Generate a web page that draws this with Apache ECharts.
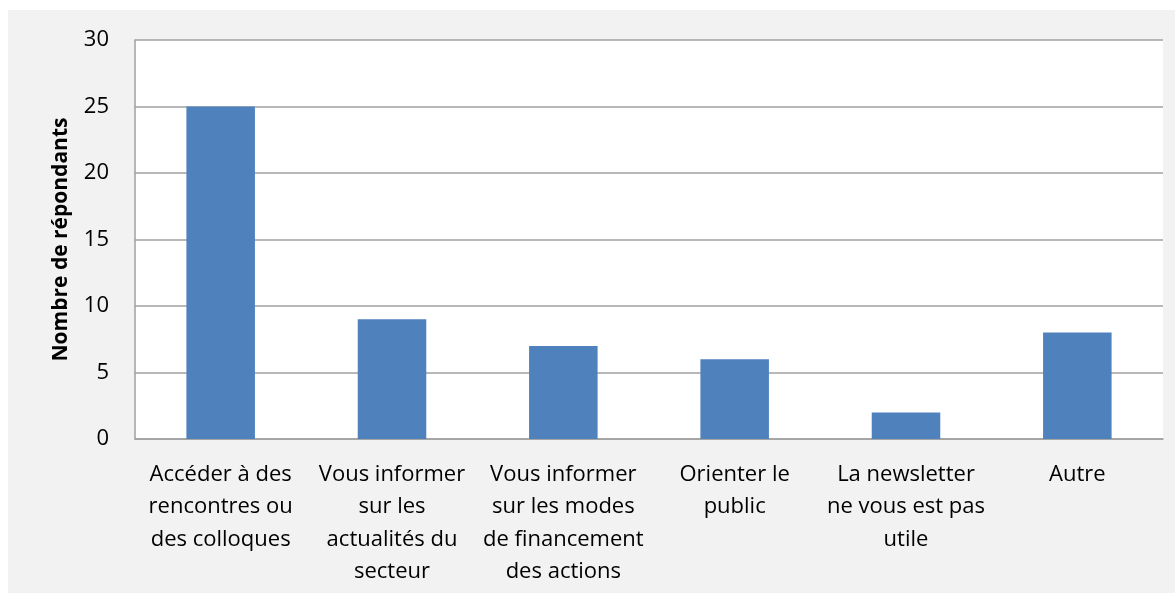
<!DOCTYPE html>
<html>
<head>
<meta charset="utf-8">
<script src="https://cdn.jsdelivr.net/npm/echarts@6/dist/echarts.min.js"></script>
<style>
  html, body { margin: 0; padding: 0; background: #fff; }
  #chart { width: 1175px; height: 595px; }
</style>
</head>
<body>
<div id="chart"></div>
<script>
const categories = [
  "Accéder à des\nrencontres ou\ndes colloques",
  "Vous informer\nsur les\nactualités du\nsecteur",
  "Vous informer\nsur les modes\nde financement\ndes actions",
  "Orienter le\npublic",
  "La newsletter\nne vous est pas\nutile",
  "Autre"
];
const respondents = [25, 9, 7, 6, 2, 8];
const yTicks = { min: 0, max: 30, interval: 5 };

const chart = echarts.init(document.getElementById("chart"));
const font = "'Open Sans', 'Noto Sans', sans-serif";

chart.setOption({
  backgroundColor: "#ffffff",
  animation: false,
  graphic: [{
    type: "rect",
    z: -10,
    shape: { x: 8, y: 10, width: 1167, height: 583 },
    style: { fill: "#f2f2f2" },
    silent: true
  }],
  grid: {
    left: 135, top: 40, right: 12, bottom: 156,
    show: true, backgroundColor: "#ffffff", borderWidth: 0
  },
  xAxis: {
    type: "category",
    data: categories,
    axisLine: { lineStyle: { color: "#a0a0a0", width: 1.5 } },
    axisTick: { show: false },
    axisLabel: {
      interval: 0,
      color: "#000",
      fontFamily: font,
      fontSize: 22,
      lineHeight: 32.5,
      margin: 19
    }
  },
  yAxis: {
    type: "value",
    min: yTicks.min, max: yTicks.max, interval: yTicks.interval,
    name: "Nombre de répondants",
    nameLocation: "middle",
    nameGap: 63,
    nameTextStyle: { color: "#000", fontFamily: font, fontSize: 21, fontWeight: "bold" },
    axisLine: { show: true, lineStyle: { color: "#a0a0a0", width: 1.5 } },
    axisTick: { show: false },
    splitLine: { lineStyle: { color: "#a0a0a0", width: 1.5 } },
    axisLabel: { color: "#000", fontFamily: font, fontSize: 22, margin: 26 }
  },
  series: [{
    type: "bar",
    data: respondents,
    barWidth: "40%",
    itemStyle: { color: "#4f81bd" }
  }]
});
</script>
</body>
</html>
